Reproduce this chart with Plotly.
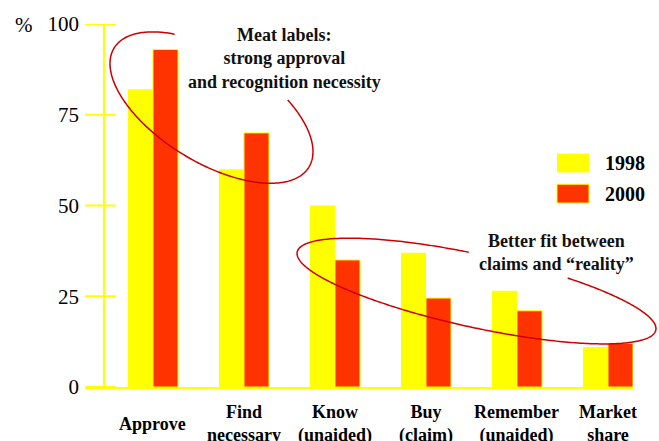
import math
import plotly.graph_objects as go

# ---- data -------------------------------------------------------------
categories = ["Approve", "Find<br>necessary", "Know<br>(unaided)",
              "Buy<br>(claim)", "Remember<br>(unaided)", "Market<br>share"]
values_1998 = [82, 60, 50, 37, 26.5, 11]
values_2000 = [93, 70, 35, 24.5, 21, 12]
series_names = ["1998", "2000"]
y_ticks = [0, 25, 50, 75, 100]

YELLOW = "#FFFF00"
RED = "#FF3300"
RING = "#CC0000"
SERIF = "'Times New Roman', 'Liberation Serif', serif"

# ---- page / plot-area geometry (pixels) -------------------------------
W, H = 659, 441
L, R, T, B = 85, 26, 20, 54
PW, PH = W - L - R, H - T - B


def px_x(x):
    """pixel x -> paper x"""
    return (x - L) / PW


def px_y(y):
    """pixel y (from top) -> paper y"""
    return (H - B - y) / PH


def ring_path(cx, cy, a, b, theta_deg, gap, n=360):
    """Open path for a tilted ellipse, leaving out the part inside `gap`
    (x0, x1, y0, y1 in pixels) where the caption sits."""
    th = math.radians(theta_deg)
    pts = []
    for k in range(n):
        p = 2 * math.pi * k / n
        x = cx + a * math.cos(th) * math.cos(p) - b * math.sin(th) * math.sin(p)
        y = cy + a * math.sin(th) * math.cos(p) + b * math.cos(th) * math.sin(p)
        pts.append((x, y))
    x0, x1, y0, y1 = gap
    hidden = [x0 <= x <= x1 and y0 <= y <= y1 for x, y in pts]
    start = next(i for i in range(n) if hidden[i - 1] and not hidden[i])
    ordered = pts[start:] + pts[:start]
    hid = hidden[start:] + hidden[:start]
    vis = []
    for (x, y), h in zip(ordered, hid):
        if h:
            break
        vis.append((x, y))
    return "M " + " L ".join(f"{px_x(x):.5f},{px_y(y):.5f}" for x, y in vis)


fig = go.Figure()
fig.add_trace(go.Bar(x=categories, y=values_1998, name=series_names[0],
                     marker=dict(color=YELLOW, line=dict(width=0))))
fig.add_trace(go.Bar(x=categories, y=values_2000, name=series_names[1],
                     marker=dict(color=RED, line=dict(color=YELLOW, width=1))))

shapes = []
# vertical axis line and crossing tick marks
shapes.append(dict(type="line", xref="paper", yref="y",
                   x0=px_x(104), x1=px_x(104), y0=0, y1=100,
                   line=dict(color=YELLOW, width=2)))
for t in y_ticks:
    shapes.append(dict(type="line", xref="paper", yref="y",
                       x0=0, x1=px_x(116), y0=t, y1=t,
                       line=dict(color=YELLOW, width=2)))

# rings around the two groups of bars
shapes.append(dict(type="path", xref="paper", yref="paper",
                   path=ring_path(211.5, 104.5, 114.5, 55.2, 31.9,
                                  (176, 420, 0, 96)),
                   line=dict(color=RING, width=1.5)))
shapes.append(dict(type="path", xref="paper", yref="paper",
                   path=ring_path(476.5, 290, 183.6, 36.8, 12.45,
                                  (470, 566, 0, 280)),
                   line=dict(color=RING, width=1.5)))

# legend swatches
legend_rows = [(151, 170, YELLOW, 0), (182, 201, RED, 1)]
for y0, y1, col, lw in legend_rows:
    shapes.append(dict(type="rect", xref="paper", yref="paper",
                       x0=px_x(557), x1=px_x(589), y0=px_y(y1), y1=px_y(y0),
                       fillcolor=col, line=dict(color=YELLOW, width=lw)))

annotations = []
for name, (y0, y1, _, _) in zip(series_names, legend_rows):
    annotations.append(dict(xref="paper", yref="paper", x=px_x(603),
                            y=px_y((y0 + y1) / 2), xanchor="left",
                            yanchor="middle", showarrow=False, text=f"<b>{name}</b>",
                            font=dict(family=SERIF, size=20, color="black")))

# category labels under the bars, centred vertically on one baseline
for c in categories:
    annotations.append(dict(xref="x", yref="paper", x=c, y=px_y(424),
                            xanchor="center", yanchor="middle", showarrow=False,
                            text=f"<b>{c}</b>",
                            font=dict(family=SERIF, size=18, color="black")))

annotations.append(dict(xref="paper", yref="paper", x=px_x(24), y=px_y(21),
                        xanchor="center", yanchor="middle", showarrow=False,
                        text="%", font=dict(family=SERIF, size=21, color="black")))

annotations.append(dict(xref="paper", yref="paper", x=px_x(284), y=px_y(55),
                        xanchor="center", yanchor="middle", showarrow=False,
                        text="<b>Meat labels:<br>strong approval<br>and recognition necessity</b>",
                        font=dict(family=SERIF, size=18, color="#111111")))
annotations.append(dict(xref="paper", yref="paper", x=px_x(556), y=px_y(251.5),
                        xanchor="center", yanchor="middle", showarrow=False,
                        text="<b>Better fit between<br>claims and \u201creality\u201d</b>",
                        font=dict(family=SERIF, size=18, color="#111111")))

fig.update_layout(
    width=W, height=H, autosize=False,
    margin=dict(l=L, r=R, t=T, b=B, pad=0),
    paper_bgcolor="white", plot_bgcolor="white",
    barmode="group", bargap=0.45, bargroupgap=0,
    showlegend=False,
    shapes=shapes, annotations=annotations,
    xaxis=dict(type="category", range=[-0.747, 5.275], showticklabels=False,
               ticks="", showgrid=False, zeroline=False,
               showline=True, linecolor=YELLOW, linewidth=2),
    yaxis=dict(range=[0, 100], tickvals=y_ticks, ticks="", showgrid=False,
               zeroline=False, showline=False, ticklabelstandoff=5,
               tickfont=dict(family=SERIF, size=21, color="black")),
)

fig.write_html("out.html")
